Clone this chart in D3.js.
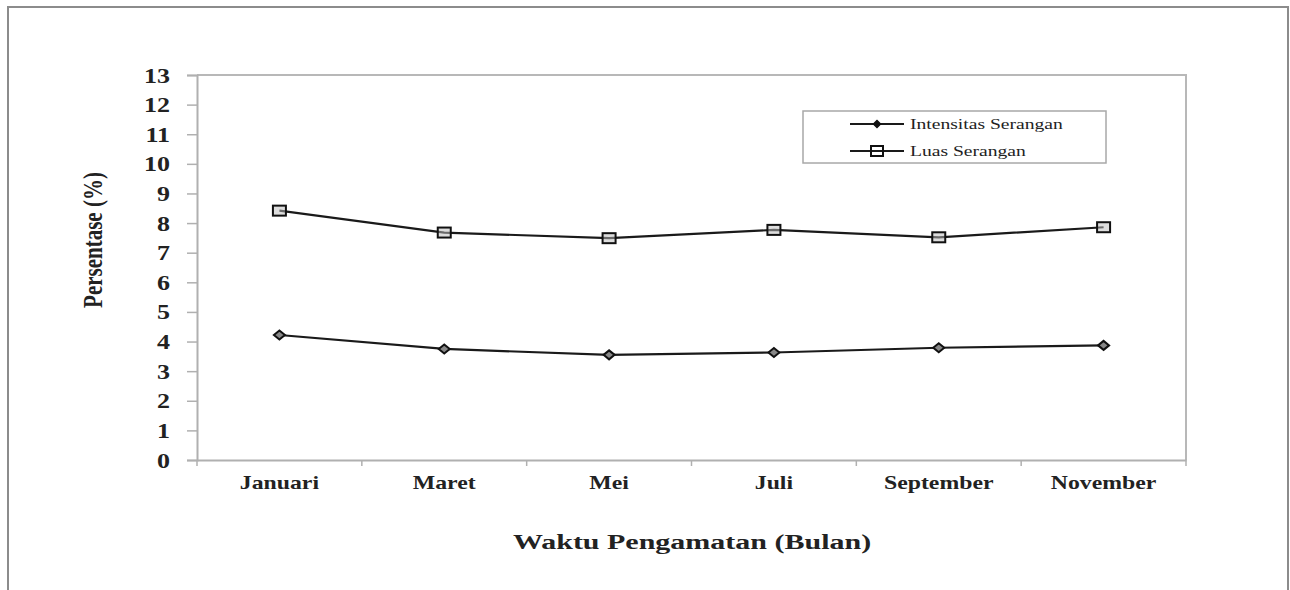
<!DOCTYPE html>
<html>
    <head>
        <meta charset="utf-8">
        <script src="https://cdn.jsdelivr.net/npm/d3@7/dist/d3.min.js"></script>
        <style>
            body {
                margin: 0;
                background: #fff;
            }
            svg text {
                font-family: "Liberation Serif", "Times New Roman", "DejaVu Serif", serif !important;
                fill: #222;
            }
        </style>
    </head>
    <body>
        <svg id="chart"></svg>
        <script>
            // data
            var months = ["Januari", "Maret", "Mei", "Juli", "September", "November"];
            var intensitas = [4.22, 3.75, 3.55, 3.63, 3.79, 3.87];
            var luas = [8.42, 7.68, 7.49, 7.77, 7.52, 7.86];
            var yTicks = [0, 1, 2, 3, 4, 5, 6, 7, 8, 9, 10, 11, 12, 13];
            var seriesNames = ["Intensitas Serangan", "Luas Serangan"];

            var W = 1290, H = 590;
            var plot = {left: 197, right: 1186, top: 75, bottom: 460};
            var serif = "'Liberation Serif', 'Times New Roman', serif";

            var svg = d3.select("#chart")
                .attr("width", W)
                .attr("height", H)
                .attr("font-family", serif);

            // outer frame
            svg.append("path")
               .attr("d", "M8,590 V7 H1288 V590")
               .attr("fill", "none")
               .attr("stroke", "#8c8c8c")
               .attr("stroke-width", 2);

            var x = d3.scaleBand()
                .domain(months)
                .range([plot.left, plot.right]);
            var y = d3.scaleLinear()
                .domain([0, 13])
                .range([plot.bottom, plot.top]);

            // plot border (top and right)
            svg.append("path")
               .attr("d", "M" + plot.left + "," + plot.top + " H" + plot.right + " V" + plot.bottom)
               .attr("fill", "none")
               .attr("stroke", "#b8b8b8")
               .attr("stroke-width", 2);

            // y axis
            var yAxis = svg.append("g")
                .attr("transform", "translate(" + plot.left + ",0)")
                .call(d3.axisLeft(y).tickValues(yTicks).tickSize(10).tickPadding(0).tickFormat(d3.format("d")))
                .attr("font-family", serif);
            yAxis.select(".domain").attr("stroke", "#b0b0b0").attr("stroke-width", 2);
            yAxis.selectAll(".tick line").attr("stroke", "#b0b0b0").attr("stroke-width", 1.5);
            yAxis.selectAll(".tick text")
                 .attr("x", null).attr("dy", null)
                 .attr("text-anchor", "end")
                 .attr("font-size", 20)
                 .attr("font-weight", "bold")
                 .attr("fill", "#2a2a2a")
                 .attr("transform", "translate(-27,7) scale(1.3,1)");

            // x axis, ticks sit on the category boundaries
            var xAxis = svg.append("g")
                .attr("transform", "translate(0," + plot.bottom + ")")
                .call(d3.axisBottom(x).tickSize(0).tickSizeOuter(0).tickPadding(0))
                .attr("font-family", serif);
            xAxis.select(".domain").attr("stroke", "#b0b0b0").attr("stroke-width", 2);
            xAxis.selectAll(".tick line").remove();
            xAxis.selectAll(".tick text")
                 .attr("y", null).attr("dy", null)
                 .attr("font-size", 19)
                 .attr("font-weight", "bold")
                 .attr("fill", "#2a2a2a")
                 .attr("transform", "translate(0,29) scale(1.25,1)");
            var bounds = [plot.left].concat(months.map(function (m) { return x(m) + x.bandwidth(); }));
            xAxis.selectAll(".cat-tick")
                 .data(bounds)
                 .enter().append("line")
                 .attr("class", "cat-tick")
                 .attr("x1", function (d) { return d; })
                 .attr("x2", function (d) { return d; })
                 .attr("y1", 0).attr("y2", 6)
                 .attr("stroke", "#b0b0b0").attr("stroke-width", 1.5);

            // axis titles
            svg.append("text")
               .attr("text-anchor", "middle")
               .attr("font-size", 20)
               .attr("font-weight", "bold")
               .attr("transform", "translate(692,549) scale(1.5,1)")
               .text("Waktu Pengamatan (Bulan)");
            svg.append("text")
               .attr("text-anchor", "middle")
               .attr("font-size", 21)
               .attr("font-weight", "bold")
               .attr("transform", "translate(102,240) rotate(-90) scale(1,1.3)")
               .text("Persentase (%)");

            var cx = function (d, i) { return x(months[i]) + x.bandwidth() / 2; };
            var line = d3.line()
                .x(cx)
                .y(function (d) { return y(d); });

            var diamond = function (px, py, hw, hh) {
                return "M" + (px - hw) + "," + py + " L" + px + "," + (py - hh) +
                       " L" + (px + hw) + "," + py + " L" + px + "," + (py + hh) + " Z";
            };

            // series lines
            [intensitas, luas].forEach(function (vals) {
                svg.append("path")
                   .datum(vals)
                   .attr("d", line)
                   .attr("fill", "none")
                   .attr("stroke", "#1a1a1a")
                   .attr("stroke-width", 2.2);
            });

            // markers
            svg.selectAll(".mk-int")
               .data(intensitas)
               .enter().append("path")
               .attr("class", "mk-int")
               .attr("d", function (d, i) { return diamond(cx(d, i), y(d), 5.5, 4.5); })
               .attr("fill", "#888")
               .attr("stroke", "#111")
               .attr("stroke-width", 2);
            svg.selectAll(".mk-luas")
               .data(luas)
               .enter().append("rect")
               .attr("class", "mk-luas")
               .attr("x", function (d, i) { return cx(d, i) - 6.5; })
               .attr("y", function (d) { return y(d) - 5; })
               .attr("width", 13)
               .attr("height", 10)
               .attr("fill", "#bbb")
               .attr("fill-opacity", 0.5)
               .attr("stroke", "#111")
               .attr("stroke-width", 2);

            // legend
            var legend = svg.append("g").attr("transform", "translate(803,111)");
            legend.append("rect")
                  .attr("width", 303).attr("height", 52)
                  .attr("fill", "#fff")
                  .attr("stroke", "#a8a8a8")
                  .attr("stroke-width", 1.5);
            var item = legend.selectAll(".item")
                  .data(seriesNames)
                  .enter().append("g")
                  .attr("class", "item")
                  .attr("transform", function (d, i) { return "translate(0," + (13 + i * 27) + ")"; });
            item.append("line")
                .attr("x1", 47).attr("x2", 101)
                .attr("stroke", "#1a1a1a").attr("stroke-width", 2);
            item.filter(function (d, i) { return i === 0; })
                .append("path")
                .attr("d", diamond(74, 0, 3.5, 3.5))
                .attr("fill", "#111").attr("stroke", "#111").attr("stroke-width", 1.5);
            item.filter(function (d, i) { return i === 1; })
                .append("rect")
                .attr("x", 68).attr("y", -5).attr("width", 12).attr("height", 10)
                .attr("fill", "none").attr("stroke", "#111").attr("stroke-width", 2);
            item.append("text")
                .attr("font-size", 14)
                .attr("fill", "#333")
                .attr("transform", "translate(107,5) scale(1.4,1)")
                .text(function (d) { return d; });
        </script>
    </body>
</html>
